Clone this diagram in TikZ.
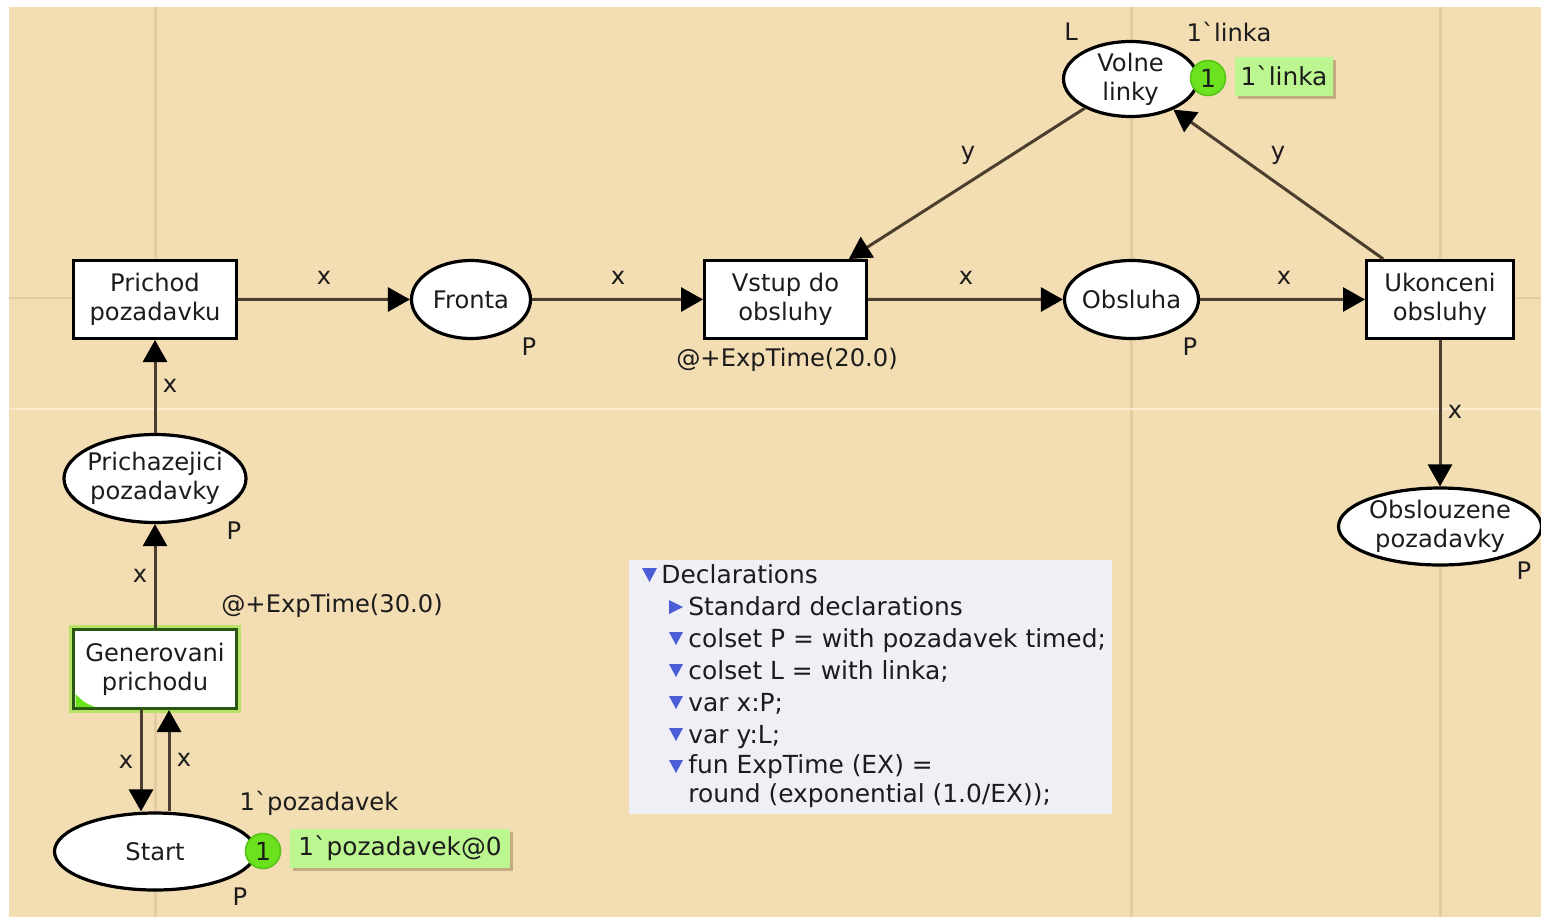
\documentclass[tikz,border=0pt]{standalone}
\usepackage{fontspec}
\setmainfont{DejaVu Sans}[Ligatures=TeXOff]
\usetikzlibrary{shapes.geometric,arrows.meta,shadows}

\definecolor{canvas}{RGB}{243,221,178}
\definecolor{gridc}{RGB}{229,204,160}
\definecolor{seam}{RGB}{252,236,205}
\definecolor{arcc}{RGB}{74,62,46}
\definecolor{txt}{RGB}{28,28,28}
\definecolor{tokfill}{RGB}{108,226,30}
\definecolor{tokedge}{RGB}{86,196,24}
\definecolor{markfill}{RGB}{188,246,144}
\definecolor{markshadow}{RGB}{176,152,110}
\definecolor{declbg}{RGB}{239,239,246}
\definecolor{declblue}{RGB}{76,94,214}
\definecolor{enabled}{RGB}{40,88,18}
\definecolor{glow}{RGB}{184,226,104}

\newcommand{\gq}{\symbol{96}}

\begin{document}
\begin{tikzpicture}[x=0.5pt,y=-0.5pt,
  every node/.style={font=\fontsize{12.1}{14.4}\selectfont, text=txt},
  place/.style={ellipse, draw=black, line width=1.6pt, fill=white, inner sep=0pt, align=center},
  trans/.style={rectangle, draw=black, line width=1.5pt, fill=white, inner sep=0pt, align=center},
  enabledtrans/.style={trans, draw=enabled, preaction={draw=glow, line width=4.5pt}},
  arcline/.style={draw=arcc, line width=1.5pt, -{Triangle[length=11pt,width=12pt,color=black]}},
  insc/.style={inner sep=0pt},
  token/.style={circle, fill=tokfill, draw=tokedge, line width=0.8pt, minimum size=17.5pt, inner sep=0pt, font=\fontsize{12.5}{12.5}\selectfont},
  marking/.style={fill=markfill, inner sep=0pt, minimum height=19.5pt, font=\fontsize{12.4}{14}\selectfont,
    drop shadow={shadow xshift=1.5pt, shadow yshift=-1.5pt, fill=markshadow, opacity=0.7}},
  declline/.style={anchor=base west, inner sep=0pt, font=\fontsize{12.45}{14}\selectfont},
  declbox/.style={fill=declbg, inner sep=0pt, anchor=north west}
]
\useasboundingbox (0,0) rectangle (1541,917);
\fill[white] (0,0) rectangle (1541,917);
\fill[canvas] (9,7) rectangle (1541,917);

% page grid of the editor
\draw[gridc, line width=1.5pt] (155,7) -- (155,917);
\draw[gridc, line width=1.5pt] (1131,7) -- (1131,917);
\draw[gridc, line width=1.5pt] (1440,7) -- (1440,917);
\draw[gridc, line width=1.3pt] (9,298) -- (1541,298);
\draw[seam, line width=1pt] (9,409) -- (1541,409);

% declarations panel
\node[declbox, minimum width=241.5pt, minimum height=127pt] (decl) at (629,560) {};
\fill[declblue] (642,568) -- (657,568) -- (649.5,582) -- cycle;
\node[declline] (d0) at (661,583) {Declarations};
\fill[declblue] (669,600) -- (683,607) -- (669,614) -- cycle;
\node[declline] (d1) at (688,615) {Standard declarations};
\fill[declblue] (669,632) -- (683,632) -- (676,645) -- cycle;
\node[declline] (d2) at (688,647) {colset P = with pozadavek timed;};
\fill[declblue] (669,664) -- (683,664) -- (676,677) -- cycle;
\node[declline] (d3) at (688,679) {colset L = with linka;};
\fill[declblue] (669,696) -- (683,696) -- (676,709) -- cycle;
\node[declline] (d4) at (688,711) {var x:P;};
\fill[declblue] (669,728) -- (683,728) -- (676,741) -- cycle;
\node[declline] (d5) at (688,743) {var y:L;};
\fill[declblue] (669,760) -- (683,760) -- (676,773) -- cycle;
\node[declline] (d6) at (688,773) {fun ExpTime (EX) =};
\node[declline] (d7) at (688,802) {round (exponential (1.0/EX));};

% places and transitions
\node[trans, minimum width=81.5pt, minimum height=39pt] (prichod) at (155,299.5) {Prichod\\pozadavku};
\node[place, minimum width=59.5pt, minimum height=39pt] (fronta) at (471,299.5) {Fronta};
\node[trans, minimum width=81pt, minimum height=39pt] (vstup) at (785.5,299.5) {Vstup do\\obsluhy};
\node[place, minimum width=67pt, minimum height=39pt, inner xsep=-1.5pt] (obsluha) at (1131.5,299.5) {Obsluha};
\node[trans, minimum width=73.5pt, minimum height=39pt] (ukonceni) at (1440,299.5) {Ukonceni\\obsluhy};
\node[place, minimum width=67pt, minimum height=37.5pt] (volne) at (1130.5,79) {Volne\\linky};
\node[place, minimum width=101.5pt, minimum height=38.5pt] (obslouzene) at (1440,526.5) {Obslouzene\\pozadavky};
\node[place, minimum width=91pt, minimum height=44pt, inner xsep=-2pt] (prichazejici) at (155,478.5) {Prichazejici\\pozadavky};
\node[enabledtrans, minimum width=81.5pt, minimum height=39.5pt] (generovani) at (155,669) {Generovani\\prichodu};
\fill[tokfill] (75.5,707) -- (95,707) .. controls (85,703) .. (75.5,694) -- cycle;
\node[place, minimum width=100.5pt, minimum height=38.5pt] (start) at (155,851.5) {Start};

% arcs
\draw[arcline] (prichod) -- (fronta);
\draw[arcline] (fronta) -- (vstup);
\draw[arcline] (vstup) -- (obsluha);
\draw[arcline] (obsluha) -- (ukonceni);
\draw[arcline] (volne) -- (vstup);
\draw[arcline] (ukonceni) -- (volne);
\draw[arcline] (ukonceni) -- (obslouzene);
\draw[arcline] (prichazejici) -- (prichod);
\draw[arcline] (generovani) -- (prichazejici);
\draw[arcline] ([xshift=-7pt]generovani.south) -- ([xshift=-7pt]start.north);
\draw[arcline] ([xshift=7pt]start.north) -- ([xshift=7pt]generovani.south);

% arc inscriptions
\node[insc] (a1) at (324,278) {x};
\node[insc] (a2) at (618,278) {x};
\node[insc] (a3) at (966,278) {x};
\node[insc] (a4) at (1284,278) {x};
\node[insc] (a5) at (170,386) {x};
\node[insc] (a6) at (140,576) {x};
\node[insc] (a7) at (126,762) {x};
\node[insc] (a8) at (184,760) {x};
\node[insc] (a9) at (1455,412) {x};
\node[insc] (a10) at (968,155) {y};
\node[insc] (a11) at (1278,155) {y};

% colour sets, initial markings and time inscriptions
\node[insc] (cs1) at (529,347) {P};
\node[insc] (cs2) at (1190,347) {P};
\node[insc] (cs3) at (234,531) {P};
\node[insc] (cs4) at (240,897) {P};
\node[insc] (cs5) at (1524,571) {P};
\node[insc] (cs6) at (1071,32) {L};
\node[insc] (im1) at (1229,32) {1\gq linka};
\node[insc] (im2) at (319,803) {1\gq pozadavek};
\node[insc] (t1) at (787,360) {@+ExpTime(20.0)};
\node[insc] (t2) at (332,606) {@+ExpTime(30.0)};

% current markings
\node[token] (tok1) at (1208,78) {1};
\node[marking, minimum width=49pt] (mark1) at (1284,76) {1\gq linka};
\node[token] (tok2) at (263,851) {1};
\node[marking, minimum width=110pt] (mark2) at (400,848) {1\gq pozadavek@0};
\end{tikzpicture}
\end{document}
